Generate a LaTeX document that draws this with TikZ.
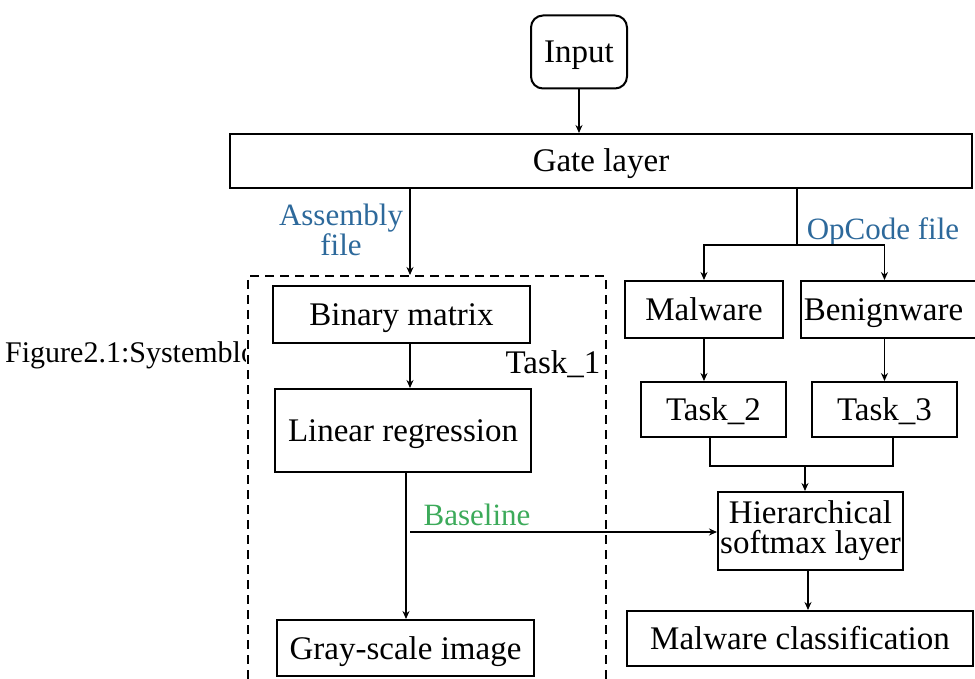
\documentclass[tikz,border=0pt]{standalone}
\usepackage{fontspec}
\setmainfont{Liberation Serif}
\usetikzlibrary{arrows.meta}
\definecolor{lblblue}{RGB}{45,105,155}
\definecolor{lblgreen}{RGB}{60,170,90}
\begin{document}
\begin{tikzpicture}[x=1pt,y=-1pt,
  box/.style={draw,line width=2pt,inner sep=0pt,text height=29pt,text depth=7pt,font=\fontsize{33}{36}\selectfont},
  arr/.style={line width=1.6pt,-{Stealth[length=8pt,width=7pt]}},
  ln/.style={line width=1.6pt},
  lbl/.style={inner sep=0pt,font=\fontsize{31}{26}\selectfont,align=center}]
\useasboundingbox (0,0) rectangle (975,679);
% nodes
\node[box,rounded corners=12pt,minimum width=96pt,minimum height=73pt] (input) at (579,52) {Input};
\node[box,minimum width=742pt,minimum height=54pt] (gate) at (601,161) {Gate layer};
\node[draw,dashed,line width=2pt,dash pattern=on 9pt off 6pt,minimum width=358pt,minimum height=420pt,inner sep=0pt] (t1) at (427,486) {};
\node[box,minimum width=257pt,minimum height=57pt] (binary) at (401.5,314.5) {Binary matrix};
\node[box,minimum width=256pt,minimum height=83pt] (linreg) at (403,430.5) {Linear regression};
\node[box,minimum width=257pt,minimum height=56pt] (gray) at (405.5,648) {Gray-scale image};
\node[box,minimum width=158pt,minimum height=57pt] (malware) at (704,309.5) {Malware};
\node[box,minimum width=185pt,minimum height=57pt,anchor=west] (benign) at (800,309.5) {\hspace*{-20pt}Benignware};
\node[box,minimum width=145pt,minimum height=55pt] (task2) at (713.5,409.5) {Task\_2};
\node[box,minimum width=145pt,minimum height=55pt] (task3) at (884.5,409.5) {Task\_3};
\node[draw,line width=2pt,inner sep=0pt,minimum width=185pt,minimum height=78pt,align=center,font=\fontsize{33}{30}\selectfont] (hier) at (810.5,531) {Hierarchical\\softmax layer};
\node[box,minimum width=346pt,minimum height=55pt] (mclass) at (800,638.5) {Malware classification};
% labels
\node[lbl,text=lblblue] (asm) at (341,230) {Assembly\\file};
\node[lbl,text=lblblue] (opc) at (883,232) {OpCode file};
\node[lbl,text=lblgreen] (base) at (477,515) {Baseline};
\node[lbl,font=\fontsize{33}{36}\selectfont] (t1lbl) at (553,364) {Task\_1};
\begin{scope}
\clip (0,300) rectangle (245,420);
\node[lbl,anchor=west,font=\fontsize{30}{32}\selectfont] (fig) at (5,355) {Figure2.1:Systemblock};
\end{scope}
% coordinates
\coordinate (ga) at (410,188);
\coordinate (gb) at (797,188);
\coordinate (sp) at (797,245);
\coordinate (bl) at (410,532);
\coordinate (jn) at (805,466);
% connectors
\draw[arr] (input.south) -- (input.south |- gate.north);
\draw[arr] (ga) -- (ga |- t1.north);
\draw[arr] (binary.south -| ga) -- (linreg.north -| ga);
\draw[arr] (linreg.south -| 406,0) -- (gray.north -| 406,0);
\draw[ln] (gb) -- (sp);
\draw[arr] (sp) -| (malware.north);
\draw[arr] (sp) -| (benign.north -| task3.north);
\draw[arr] (malware.south) -- (malware.south |- task2.north);
\draw[arr] (malware.south -| task3.north) -- (task3.north);
\draw[ln] (task2.south -| 710,0) |- (jn) -| (task3.south -| 893,0);
\draw[arr] (jn) -- (jn |- hier.north);
\draw[arr] (bl) -- (bl -| hier.west);
\draw[arr] (hier.south -| 808,0) -- (mclass.north -| 808,0);
\end{tikzpicture}
\end{document}
